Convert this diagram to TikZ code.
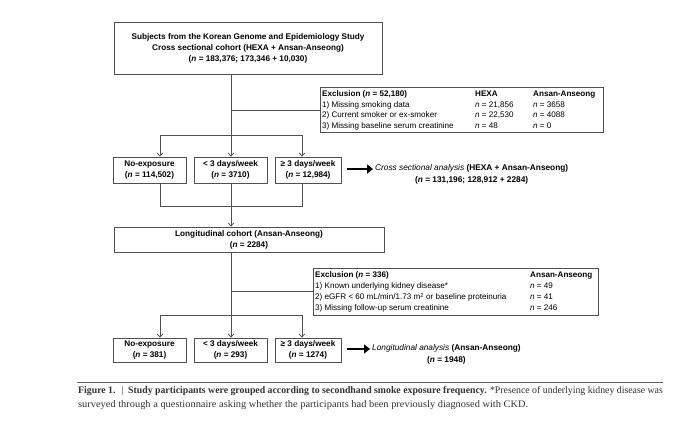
\documentclass[tikz,border=0pt]{standalone}
\usepackage{fontspec}
\setmainfont{Liberation Sans}
\newfontfamily\capfont{Liberation Serif}
\usetikzlibrary{arrows.meta}
\definecolor{ln}{HTML}{505050}
\definecolor{capc}{HTML}{333333}
\begin{document}
\begin{tikzpicture}[x=1pt,y=-1pt,
  box/.style={draw=ln,line width=0.8pt,inner sep=0pt,align=center,font=\fontsize{8.2}{11}\selectfont\bfseries},
  exbox/.style={draw=ln,line width=0.8pt,inner sep=0pt},
  extxt/.style={anchor=base west,inner sep=0pt,font=\fontsize{8.1}{9}\selectfont},
  exhd/.style={anchor=base west,inner sep=0pt,font=\fontsize{8.1}{9}\selectfont\bfseries},
  conn/.style={draw=ln,line width=0.8pt},
  arr/.style={conn,-{Straight Barb[length=3pt,width=5.5pt,line width=0.8pt]}},
  big/.style={draw=black,line width=2.8pt,-{Triangle[length=6pt,width=9pt]}},
  res/.style={align=center,inner sep=0pt,font=\fontsize{8.3}{12}\selectfont},
  captxt/.style={anchor=base west,inner sep=0pt,text=capc,font=\capfont\fontsize{10}{12}\selectfont}
]
\useasboundingbox (0,0) rectangle (680,427);
\fill[white] (0,0) rectangle (680,427);

% main boxes
\node[box,minimum width=268pt,minimum height=52pt] (top) at (248,48)
 {Subjects from the Korean Genome and Epidemiology Study\\Cross sectional cohort (HEXA + Ansan-Anseong)\\(\textit{n} = 183,376; 173,346 + 10,030)};

\node[box,minimum width=73pt,minimum height=26pt] (b1) at (149.5,170) {No-exposure\\(\textit{n} = 114,502)};
\node[box,minimum width=73pt,minimum height=26pt] (b2) at (230.5,170) {< 3 days/week\\(\textit{n} = 3710)};
\node[box,minimum width=66pt,minimum height=26pt] (b3) at (308,170) {≥ 3 days/week\\(\textit{n} = 12,984)};

\node[box,minimum width=270pt,minimum height=25pt] (lg) at (249,239.5) {Longitudinal cohort (Ansan-Anseong)\\(\textit{n} = 2284)};

\node[box,minimum width=73pt,minimum height=24pt] (c1) at (149.5,350) {No-exposure\\(\textit{n} = 381)};
\node[box,minimum width=73pt,minimum height=24pt] (c2) at (230.5,350) {< 3 days/week\\(\textit{n} = 293)};
\node[box,minimum width=66pt,minimum height=24pt] (c3) at (308,350) {≥ 3 days/week\\(\textit{n} = 1274)};

% exclusion 1
\node[exbox,minimum width=283pt,minimum height=45pt] (ex1) at (461.5,110) {};
\node[exhd] (e1h) at (322,97) {Exclusion (\textit{n} = 52,180)};
\node[exhd] (e1h2) at (475,97) {HEXA};
\node[exhd] (e1h3) at (533,97) {Ansan-Anseong};
\node[extxt] (e1a) at (322,107.5) {1) Missing smoking data};
\node[extxt] (e1a2) at (475,107.5) {\textit{n} = 21,856};
\node[extxt] (e1a3) at (533,107.5) {\textit{n} = 3658};
\node[extxt] (e1b) at (322,118) {2) Current smoker or ex-smoker};
\node[extxt] (e1b2) at (475,118) {\textit{n} = 22,530};
\node[extxt] (e1b3) at (533,118) {\textit{n} = 4088};
\node[extxt] (e1c) at (322,128.5) {3) Missing baseline serum creatinine};
\node[extxt] (e1c2) at (475,128.5) {\textit{n} = 48};
\node[extxt] (e1c3) at (533,128.5) {\textit{n} = 0};

% exclusion 2
\node[exbox,minimum width=285pt,minimum height=47pt] (ex2) at (455.5,291.5) {};
\node[exhd] (e2h) at (315,278) {Exclusion (\textit{n} = 336)};
\node[exhd] (e2h3) at (530,278) {Ansan-Anseong};
\node[extxt] (e2a) at (315,289) {1) Known underlying kidney disease*};
\node[extxt] (e2a3) at (530,289) {\textit{n} = 49};
\node[extxt] (e2b) at (315,300) {2) eGFR < 60 mL/min/1.73 m\textsuperscript{2} or baseline proteinuria};
\node[extxt] (e2b3) at (530,300) {\textit{n} = 41};
\node[extxt] (e2c) at (315,311) {3) Missing follow-up serum creatinine};
\node[extxt] (e2c3) at (530,311) {\textit{n} = 246};

% results
\node[res,anchor=west] (r1) at (375,174) {\textit{Cross sectional analysis} \textbf{(HEXA + Ansan-Anseong)}\\\textbf{(\textit{n} = 131,196; 128,912 + 2284)}};
\node[res,anchor=west] (r2) at (372,354) {\textit{Longitudinal analysis} \textbf{(Ansan-Anseong)}\\\textbf{(\textit{n} = 1948)}};

% connectors, part 1
\coordinate (s1) at (231,135);
\coordinate (a1) at (160,135);
\coordinate (a3) at (302,135);
\draw[conn] (top.south -| s1) -- (s1);
\draw[conn] (ex1.west -| s1) -- (ex1.west);
\draw[conn] (a1) -- (a3);
\draw[arr] (a1) -- (a1 |- b1.north);
\draw[arr] (s1) -- (s1 |- b2.north);
\draw[arr] (a3) -- (a3 |- b3.north);

\coordinate (m1) at (160,206);
\coordinate (m2) at (231,206);
\coordinate (m3) at (302,206);
\draw[conn] (m1 |- b1.south) -- (m1) -- (m3) -- (m3 |- b3.south);
\draw[conn] (m2 |- b2.south) -- (m2);
\draw[arr] (m2) -- (m2 |- lg.north);

% connectors, part 2
\coordinate (t1) at (160,315);
\coordinate (t2) at (231,315);
\coordinate (t3) at (302,315);
\draw[conn] (t2 |- lg.south) -- (t2);
\draw[conn] (ex2.west -| t2) -- (ex2.west);
\draw[conn] (t1) -- (t3);
\draw[arr] (t1) -- (t1 |- c1.north);
\draw[arr] (t2) -- (t2 |- c2.north);
\draw[arr] (t3) -- (t3 |- c3.north);

\draw[big] (b3.east |- 0,169) ++(6,0) coordinate (k1) -- ([xshift=-2pt]k1 -| r1.west);
\draw[big] (c3.east |- 0,349) ++(6,0) coordinate (k2) -- ([xshift=-2pt]k2 -| r2.west);

% caption
\draw[capc!80,line width=1pt] (77,383) coordinate (rl) -- (663,383) coordinate (rr);
\node[captxt] (cap1) at (78,394)
 {\scalebox{0.98}[1]{\textbf{Figure 1.} \ \textbar\ \ \textbf{Study participants were grouped according to secondhand smoke exposure frequency.} *Presence of underlying kidney disease was}};
\node[captxt] (cap2) at (78,407)
 {\scalebox{1.04}[1]{surveyed through a questionnaire asking whether the participants had been previously diagnosed with CKD.}};
\end{tikzpicture}
\end{document}
